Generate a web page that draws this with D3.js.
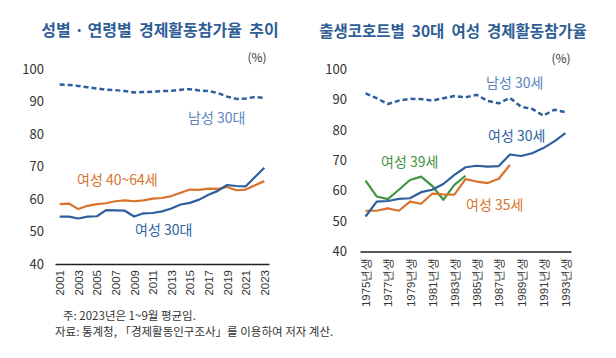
<!DOCTYPE html>
<html><head><meta charset="utf-8">
<script src="https://cdn.jsdelivr.net/npm/d3@7"></script>
<style>
body{margin:0;background:#fff;}
svg{display:block;font-family:"Noto Sans CJK KR","Noto Sans",sans-serif;}
text.pre{white-space:pre;}
</style></head>
<body><svg id="c" width="616" height="358"></svg>
<script>
// ---- Left chart data ----
const yearsL = d3.range(2001, 2024);
const maleL30 = [95.2,95.1,94.8,94.4,94.0,93.6,93.5,93.2,92.8,92.9,93.0,93.2,93.3,93.6,93.8,93.4,93.2,92.6,91.5,90.8,90.9,91.4,91.1];
const fem4064 = [58.4,58.6,56.9,57.9,58.4,58.7,59.3,59.6,59.3,59.6,60.1,60.3,60.9,61.9,62.9,62.8,63.2,63.1,63.7,62.7,62.9,64.2,65.5];
const fem30L = [54.6,54.6,54.0,54.6,54.7,56.6,56.5,56.4,54.6,55.6,55.7,56.2,57.1,58.3,58.8,59.8,61.3,62.5,64.3,64.0,63.9,66.8,69.6];
const tickYearsL = [2001,2003,2005,2007,2009,2011,2013,2015,2017,2019,2021,2023];

// ---- Right chart data ----
const cohorts = d3.range(1975, 1994);
const male30R = [92.0,90.4,88.5,89.6,90.2,90.1,89.6,90.4,91.1,90.7,91.5,89.5,88.7,90.5,87.6,86.9,84.7,86.6,85.8];
const fem30R = [51.5,56.4,56.6,57.3,57.5,59.5,60.3,62.2,65.2,67.7,68.2,67.9,68.1,71.9,71.4,72.3,74.0,76.2,78.9];
const fem35R = [53.4,53.4,54.2,53.4,56.4,55.7,59.0,58.8,58.7,63.8,63.0,62.5,63.9,68.5];
const fem39R = [63.3,58.1,57.2,60.3,63.5,64.6,61.6,57.0,61.9,64.9];
const tickCohorts = [1975,1977,1979,1981,1983,1985,1987,1989,1991,1993];
const yTicks = [40,50,60,70,80,90,100];

const svg = d3.select("#c");
const C = {dark:"#2d5f9e", light:"#5b86bd", orange:"#d8722c", green:"#3f9442", title:"#2f5d96", text:"#333"};

function panel(opt){
  const x = d3.scalePoint().domain(opt.cats).range(opt.xr).padding(0.5);
  const y = d3.scaleLinear().domain([40,100]).range(opt.yr);
  const g = svg.append("g");
  const ya = g.append("g").attr("transform",`translate(${opt.yLabelX},0)`)
    .call(d3.axisLeft(y).tickValues(yTicks).tickSize(0).tickPadding(0));
  ya.select(".domain").remove();
  ya.selectAll("text").attr("font-size",13).attr("fill",C.text).attr("font-family","'Noto Sans CJK KR',sans-serif");
  const xa = g.append("g").attr("transform",`translate(0,${opt.yr[0]})`)
    .call(d3.axisBottom(x).tickValues(opt.ticks).tickSize(0).tickSizeOuter(0).tickFormat(opt.fmt));
  xa.select(".domain").attr("stroke","#222").attr("stroke-width",1.6);
  xa.selectAll("text").attr("font-size",11.5).attr("fill",C.text)
    .attr("transform","rotate(-90)").attr("text-anchor","end")
    .attr("dx","-5").attr("dy","0.35em").attr("y",0).attr("x",-1);
  const line = d3.line().x((d,i)=>x(opt.cats[i])).y(d=>y(d));
  opt.series.forEach(s=>{
    g.append("path").datum(s.v).attr("d",line).attr("fill","none")
      .attr("stroke",s.c).attr("stroke-width",s.w||2.2)
      .attr("stroke-dasharray",s.dash||null).attr("stroke-linejoin","round");
  });
  g.append("text").attr("class","pre").attr("x",opt.titleX).attr("y",opt.titleY).attr("text-anchor","middle")
    .attr("font-size",opt.titleSize).attr("font-weight","bold").attr("fill",C.title).text(opt.title);
  g.append("text").attr("x",opt.pctX).attr("y",opt.pctY).attr("text-anchor","middle")
    .attr("font-size",12).attr("fill",C.text).text("(%)");
  opt.labels.forEach(l=>{
    g.append("text").attr("x",l.x).attr("y",l.y).attr("font-size",14).attr("fill",l.c).text(l.t);
  });
}

panel({
  cats:yearsL, xr:[55,269], yr:[264,69], yLabelX:44, ticks:tickYearsL, fmt:d=>d,
  series:[
    {v:maleL30,c:C.dark,dash:"5,3",w:2.5},
    {v:fem4064,c:C.orange},
    {v:fem30L,c:C.dark}
  ],
  title:"성별 · 연령별  경제활동참가율  추이", titleX:160, titleY:36, titleSize:16,
  pctX:257, pctY:62,
  labels:[
    {t:"남성 30대",x:188,y:123,c:C.light},
    {t:"여성 40~64세",x:77,y:185,c:C.orange},
    {t:"여성 30대",x:135,y:235,c:C.dark}
  ]
});

panel({
  cats:cohorts, xr:[360,571], yr:[251.5,69], yLabelX:347, ticks:tickCohorts, fmt:d=>d+"년생",
  series:[
    {v:male30R,c:C.dark,dash:"5,3",w:2.5},
    {v:fem39R,c:C.green},
    {v:fem35R,c:C.orange},
    {v:fem30R,c:C.dark}
  ],
  title:"출생코호트별  30대  여성  경제활동참가율", titleX:453, titleY:37, titleSize:15.5,
  pctX:561, pctY:63,
  labels:[
    {t:"남성 30세",x:486,y:88,c:C.light},
    {t:"여성 30세",x:488,y:141,c:C.dark},
    {t:"여성 39세",x:381,y:167,c:C.green},
    {t:"여성 35세",x:466,y:210,c:C.orange}
  ]
});

svg.append("text").attr("x",63).attr("y",320).attr("font-size",11.5).attr("fill",C.text).text("주: 2023년은 1~9월 평균임.");
svg.append("text").attr("x",55).attr("y",336).attr("font-size",11.5).attr("fill",C.text).text("자료: 통계청, 「경제활동인구조사」를 이용하여 저자 계산.");
</script></body></html>
